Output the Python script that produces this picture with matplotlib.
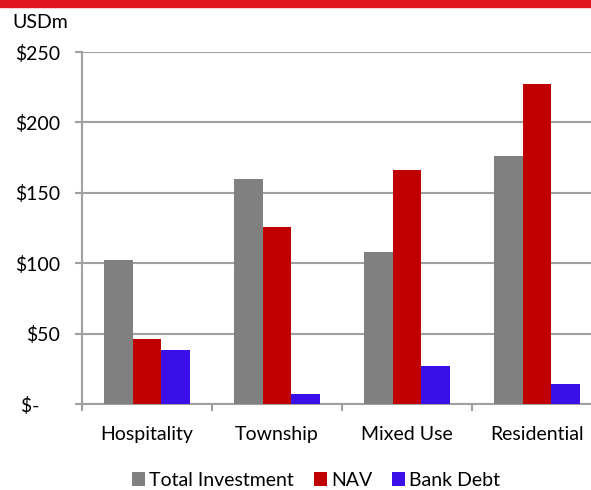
from matplotlib import pyplot as plt
import numpy as np

categories = ["Hospitality", "Township", "Mixed Use", "Residential"]
total_investment = [102, 160, 108, 176]
nav = [46, 126, 166, 227]
bank_debt = [38, 7, 27, 14]
y_ticks = [0, 50, 100, 150, 200, 250]
y_tick_labels = ["$-    ", "$50", "$100", "$150", "$200", "$250"]

plt.rcParams['font.family'] = ['Lato', 'DejaVu Sans']

fig = plt.figure(figsize=(5.91, 4.9), dpi=100)
# red band across the top
fig.patches.append(plt.Rectangle((0, 1 - 7 / 490), 1, 7 / 490, transform=fig.transFigure,
                                 color='#E0161E', zorder=5))

ax = fig.add_axes([82 / 591, 86 / 490, 520 / 591, 352 / 490])
x = np.arange(len(categories))
w = 0.223
ax.bar(x - w, total_investment, w, color='#808080', label='Total Investment', zorder=3)
ax.bar(x, nav, w, color='#C00000', label='NAV', zorder=3)
ax.bar(x + w, bank_debt, w, color='#3B10E8', label='Bank Debt', zorder=3)

ax.set_xlim(-0.5, 3.5)
ax.set_ylim(0, 250)
ax.set_yticks(y_ticks)
ax.set_yticklabels(y_tick_labels, fontsize=14)
ax.tick_params(axis='y', length=5, width=1.5, color='#A0A0A0', pad=11)

ax.set_xticks(x)
ax.set_xticklabels(categories, fontsize=14)
ax.set_xticks(np.arange(-0.5, 4, 1), minor=True)
ax.tick_params(axis='x', which='major', length=0, pad=16)
ax.tick_params(axis='x', which='minor', length=5, width=1.5, color='#A0A0A0')

ax.grid(axis='y', color='#A0A0A0', linewidth=1.5, zorder=0)
for s in ['top', 'right']:
    ax.spines[s].set_visible(False)
for s in ['left', 'bottom']:
    ax.spines[s].set_color('#A0A0A0')
    ax.spines[s].set_linewidth(1.5)

fig.text(12 / 591, 1 - 22 / 490, "USDm", fontsize=14, va='center', ha='left')

fig.legend(loc='center', bbox_to_anchor=(316 / 591, 1 - 480 / 490), ncol=3, frameon=False,
           fontsize=14, handlelength=0.7, handleheight=0.7, handletextpad=0.2,
           columnspacing=1.0)

fig.savefig("out.png", dpi=100)
